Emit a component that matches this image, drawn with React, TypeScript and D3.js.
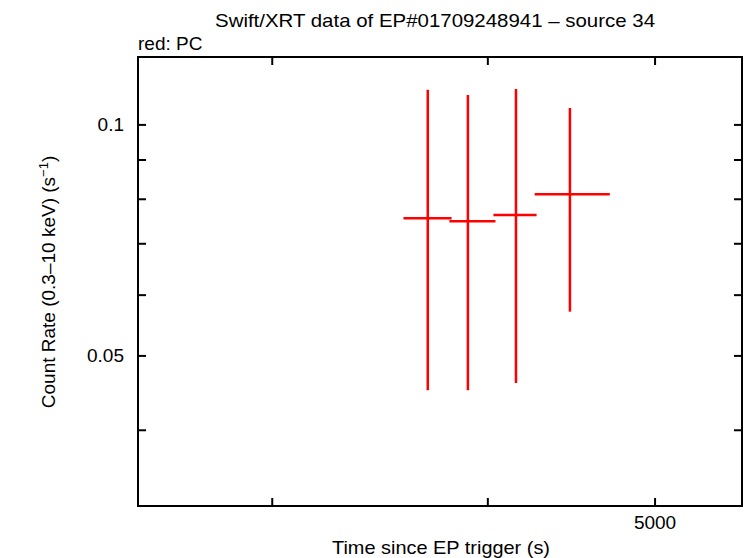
import React from "react";
import * as d3 from "d3";

// PC mode points: time (s) with -/+ extent, rate with low/high
const tMid = [3692, 3895, 4153, 4463];
const tLo = [3574, 3800, 4030, 4258];
const tHi = [3811, 4041, 4269, 4707];
const rate = [0.0756, 0.0749, 0.0763, 0.0812];
const rateLo = [0.0451, 0.0451, 0.0461, 0.0571];
const rateHi = [0.1111, 0.1094, 0.1114, 0.1052];

const xTicks = [3000, 4000, 5000];
const xLabels = ["", "", "5000"];
const yTicks = [0.04, 0.05, 0.06, 0.07, 0.08, 0.09, 0.1];
const yLabels = ["", "0.05", "", "", "", "", "0.1"];

const W = 746;
const H = 558;
const left = 138, right = 742, top = 57, bottom = 506;
const font = "Liberation Sans, Arial, Helvetica, sans-serif";
const fs = 19;

export default function App() {
  const x = d3.scaleLog().domain([2508, 5615]).range([left, right]);
  const y = d3.scaleLog().domain([0.03187, 0.1226]).range([bottom, top]);
  const tick = 8;

  return (
    <div style={{ position: "absolute", left: 0, top: 0 }}>
      <svg width={W} height={H} style={{ display: "block", background: "#fff" }} fontFamily={font}>
        <rect x={0} y={0} width={W} height={H} fill="#fff" />
        <text x={435} y={27} textAnchor="middle" fontSize={fs} textLength={440} lengthAdjust="spacingAndGlyphs">
          Swift/XRT data of EP#01709248941 – source 34
        </text>
        <text x={138} y={50} fontSize={fs}>red: PC</text>

        {/* ticks */}
        {xTicks.map((v, i) => (
          <g key={"x" + i}>
            <line x1={x(v)} x2={x(v)} y1={bottom} y2={bottom - tick} stroke="#000" strokeWidth={2} />
            <line x1={x(v)} x2={x(v)} y1={top} y2={top + tick} stroke="#000" strokeWidth={2} />
            {xLabels[i] && (
              <text x={x(v)} y={529} textAnchor="middle" fontSize={fs}>{xLabels[i]}</text>
            )}
          </g>
        ))}
        {yTicks.map((v, i) => (
          <g key={"y" + i}>
            <line x1={left} x2={left + tick} y1={y(v)} y2={y(v)} stroke="#000" strokeWidth={2} />
            <line x1={right} x2={right - tick} y1={y(v)} y2={y(v)} stroke="#000" strokeWidth={2} />
            {yLabels[i] && (
              <text x={124} y={y(v) + 6} textAnchor="end" fontSize={fs}>{yLabels[i]}</text>
            )}
          </g>
        ))}

        {/* data */}
        {tMid.map((t, i) => (
          <g key={"d" + i} stroke="#ff0000" strokeWidth={2.5}>
            <line x1={x(tLo[i])} x2={x(tHi[i])} y1={y(rate[i])} y2={y(rate[i])} />
            <line x1={x(t)} x2={x(t)} y1={y(rateLo[i])} y2={y(rateHi[i])} />
          </g>
        ))}

        <rect x={left} y={top} width={right - left} height={bottom - top} fill="none" stroke="#000" strokeWidth={2} />

        <text x={441} y={554} textAnchor="middle" fontSize={fs} textLength={218} lengthAdjust="spacingAndGlyphs">
          Time since EP trigger (s)
        </text>
        <text transform="translate(55,282) rotate(-90)" textAnchor="middle" fontSize={fs}>
          Count Rate (0.3–10 keV) (s<tspan dy={-7} fontSize={13}>−1</tspan><tspan dy={7}>)</tspan>
        </text>
      </svg>
    </div>
  );
}
